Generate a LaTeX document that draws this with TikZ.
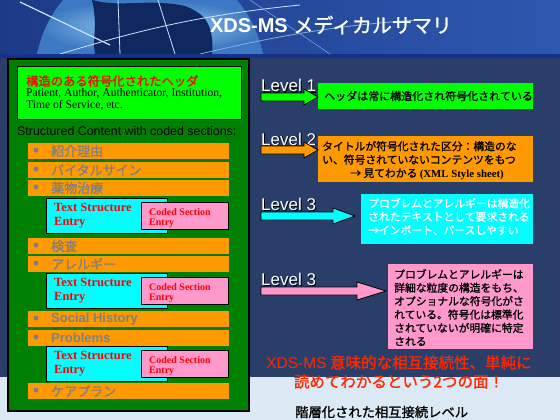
\documentclass[tikz,border=0pt]{standalone}
\usepackage{fontspec}
\setmainfont{Liberation Serif}
\newfontfamily\jp{Noto Sans CJK JP}
\newfontfamily\jpb[FakeBold=1.2]{Noto Sans CJK JP}
\newfontfamily\ar{Liberation Sans}
\definecolor{navy}{RGB}{42,62,106}
\definecolor{pale}{RGB}{218,233,243}
\definecolor{dgreen}{RGB}{0,128,0}
\definecolor{lgreen}{RGB}{0,255,0}
\definecolor{org}{RGB}{255,153,0}
\definecolor{cyn}{RGB}{0,255,255}
\definecolor{pnk}{RGB}{255,153,204}
\definecolor{gry}{RGB}{128,128,128}
\definecolor{redt}{RGB}{255,40,0}
\definecolor{bannerL}{RGB}{28,58,135}
\definecolor{bannerR}{RGB}{45,88,175}
\definecolor{globeIn}{RGB}{160,210,245}
\definecolor{globeOut}{RGB}{60,120,195}
\definecolor{land}{RGB}{15,40,95}
\definecolor{stripe}{RGB}{20,50,140}
\definecolor{streak}{RGB}{200,230,255}
\tikzset{
  rbox/.style={anchor=north west, inner sep=0pt, outer sep=0pt},
  bar/.style={rbox, fill=org, minimum width=201pt, minimum height=16pt},
  bartxt/.style={anchor=west, inner sep=0pt, text=gry, font=\jpb\fontsize{13}{15}\selectfont},
  bartxtl/.style={anchor=west, inner sep=0pt, text=gry, font=\ar\bfseries\fontsize{13}{15}\selectfont},
  bullet/.style={circle, fill=gry, inner sep=0pt, minimum size=5pt},
  tsbox/.style={rbox, fill=cyn, draw=black, line width=1pt, minimum width=121pt, minimum height=35pt},
  csbox/.style={rbox, fill=pnk, draw=black, line width=1pt, minimum width=87pt, minimum height=27pt},
  tstxt/.style={anchor=west, inner sep=0pt, align=left, text=red, font=\bfseries\fontsize{12.5}{14}\selectfont},
  cstxt/.style={anchor=west, inner sep=0pt, align=left, text=red, font=\bfseries\fontsize{10}{10.5}\selectfont},
  lvl/.style={anchor=base west, inner sep=0pt, text=white, font=\ar\fontsize{17}{19}\selectfont},
  lvlsh/.style={anchor=base west, inner sep=0pt, text=black, font=\ar\fontsize{17}{19}\selectfont},
  blkarrow/.style={draw=black, line width=0.8pt},
  streakline/.style={draw=streak, line width=0.8pt},
  jtxt/.style={anchor=west, inner sep=0pt, align=left, font=\jpb\fontsize{10.8}{13.4}\selectfont}
}
\begin{document}
\begin{tikzpicture}[x=1pt,y=-1pt]
\useasboundingbox (0,0) rectangle (560,420);
% backgrounds
\fill[navy] (0,0) rectangle (560,420);
\fill[pale] (0,377) rectangle (560,420);
\shade[left color=bannerL, right color=bannerR] (0,0) rectangle (560,54);
% globe
\shade[inner color=globeIn, outer color=globeOut]
  (63,0) -- (237,0) .. controls (252,18) and (259,36) .. (263,54) -- (37,54)
  .. controls (41,36) and (48,18) .. (63,0) -- cycle;
\fill[land] (92,0) .. controls (120,8) and (150,-2) .. (185,6)
   .. controls (200,12) and (215,20) .. (212,54) -- (95,54)
   .. controls (92,40) and (98,25) .. (92,0) -- cycle;
\draw[streakline, line width=1.2pt] (20,2) -- (110,45);
\draw[streakline] (118,0) -- (120,54);
\draw[streakline] (158,0) -- (175,54);
\draw[streakline] (60,54) .. controls (140,30) and (200,15) .. (300,5);
\draw[streakline, draw=globeOut!60!white] (200,54) .. controls (260,40) and (330,25) .. (420,20);
\draw[streakline, draw=globeOut!70!white, line width=0.6pt] (250,0) -- (330,54);
\fill[stripe] (0,54) rectangle (560,58);
\node[anchor=center, inner sep=0pt, text=white] (title) at (331,25)
  {{\ar\bfseries\fontsize{20}{22}\selectfont XDS-MS }{\jpb\fontsize{20}{22}\selectfont メディカルサマリ}};

% left main box
\node[rbox, fill=dgreen, draw=black, line width=1.2pt, minimum width=241pt, minimum height=352pt] (main) at (8,59) {};
\node[rbox, fill=lgreen, draw=black, line width=1pt, minimum width=224pt, minimum height=52pt] (hdr) at (17,67) {};
\node[anchor=west, inner sep=0pt, text=red, font=\jpb\fontsize{12.3}{14}\selectfont] (hdrt) at (26,81) {構造のある符号化されたヘッダ};
\node[anchor=north west, inner sep=0pt, align=left, font=\fontsize{11.6}{12.5}\selectfont] (hdrs) at (26,88)
  {Patient, Author, Authenticator, Institution,\\Time of Service, etc.};
\node[anchor=west, inner sep=0pt, font=\ar\fontsize{12.4}{14}\selectfont] (sc) at (17,131) {Structured Content with coded sections:};

% bars
\node[bar] (b1) at (28,143) {};
\node[bar] (b2) at (28,162) {};
\node[bar] (b3) at (28,180) {};
\node[bar] (b4) at (28,238) {};
\node[bar] (b5) at (28,256) {};
\node[bar] (b6) at (28,311) {};
\node[bar] (b7) at (28,330) {};
\node[bar] (b8) at (28,383) {};
\foreach \n in {1,...,8}{\node[bullet] (d\n) at ([xshift=8pt,yshift=-7pt]b\n.north west) {};}
\node[bartxt] (t1) at ([xshift=23pt]b1.west) {紹介理由};
\node[bartxt] (t2) at ([xshift=23pt]b2.west) {バイタルサイン};
\node[bartxt] (t3) at ([xshift=23pt]b3.west) {薬物治療};
\node[bartxt] (t4) at ([xshift=23pt]b4.west) {検査};
\node[bartxt] (t5) at ([xshift=23pt]b5.west) {アレルギー};
\node[bartxtl] (t6) at ([xshift=23pt]b6.west) {Social History};
\node[bartxtl] (t7) at ([xshift=23pt]b7.west) {Problems};
\node[bartxt] (t8) at ([xshift=23pt]b8.west) {ケアプラン};

% text structure / coded section entries
\node[tsbox] (ts1) at (46,198) {};
\node[tsbox] (ts2) at (46,273) {};
\node[tsbox] (ts3) at (46,346) {};
\node[csbox] (cs1) at (141,202) {};
\node[csbox] (cs2) at (141,277) {};
\node[csbox] (cs3) at (141,350) {};
\foreach \n in {1,2,3}{
  \node[tstxt] (tst\n) at ([xshift=8pt,yshift=-0.5pt]ts\n.west) {Text Structure\\Entry};
  \node[cstxt] (cst\n) at ([xshift=8pt,yshift=-2.5pt]cs\n.west) {Coded Section\\Entry};
}

% right side levels
\node[lvlsh] (l1s) at (262,93) {Level 1};
\node[lvl] (l1) at (261,92) {Level 1};
\node[lvlsh] (l2s) at (262,146) {Level 2};
\node[lvl] (l2) at (261,145) {Level 2};
\node[lvlsh] (l3s) at (262,211) {Level 3};
\node[lvl] (l3) at (261,210) {Level 3};
\node[lvlsh] (l4s) at (262,286) {Level 3};
\node[lvl] (l4) at (261,285) {Level 3};

% boxes
\node[rbox, fill=lgreen, minimum width=215pt, minimum height=26pt] (r1) at (318,83) {};
\node[rbox, fill=org, minimum width=215pt, minimum height=46pt] (r2) at (318,136) {};
\node[rbox, fill=cyn, minimum width=172pt, minimum height=50pt] (r3) at (361,194) {};
\node[rbox, fill=pnk, minimum width=145pt, minimum height=85pt] (r4) at (388,264) {};

% block arrows
\fill[lgreen, blkarrow] (261,93) -- (304,93) -- (304,89) -- (r1.west |- 0,97) -- (304,105) -- (304,101) -- (261,101) -- cycle;
\fill[org, blkarrow] (261,146) -- (304,146) -- (304,142) -- (r2.west |- 0,150) -- (304,158) -- (304,154) -- (261,154) -- cycle;
\fill[cyn, blkarrow] (261,212) -- (333,212) -- (333,208) -- (355,216) -- (333,224) -- (333,220) -- (261,220) -- cycle;
\fill[pnk, blkarrow] (261,287) -- (357,287) -- (357,282) -- (386,291) -- (357,300) -- (357,295) -- (261,295) -- cycle;

% box texts
\node[jtxt, font=\jpb\fontsize{11}{13}\selectfont] (r1t) at (324,96) {ヘッダは常に構造化され符号化されている};
\node[jtxt, anchor=north west] (r2t) at (322,141)
  {タイトルが符号化された区分：構造のな\\い、符号されていないコンテンツをもつ\\\hspace*{28pt}→ 見てわかる {\rmfamily\bfseries (XML Style sheet)}};
\node[jtxt, anchor=north west, text=white] (r3t) at (368,198)
  {プロブレムとアレルギーは構造化\\されたテキストとして要求される\\→インポート、パースしやすい};
\node[jtxt, anchor=north west] (r4t) at (394,269)
  {プロブレムとアレルギーは\\詳細な粒度の構造をもち、\\オプショナルな符号化がさ\\れている。符号化は標準化\\されていないが明確に特定\\される};

% red statement
\node[anchor=center, inner sep=0pt, text=redt, align=center, font=\jpb\fontsize{15.5}{19}\selectfont] (red) at (399,372)
  {{\ar XDS-MS} 意味的な相互接続性、単純に\\読めてわかるという2つの面！};
\node[anchor=west, inner sep=0pt, font=\jpb\fontsize{13.3}{15}\selectfont] (foot) at (295,412) {階層化された相互接続レベル};
\end{tikzpicture}
\end{document}
